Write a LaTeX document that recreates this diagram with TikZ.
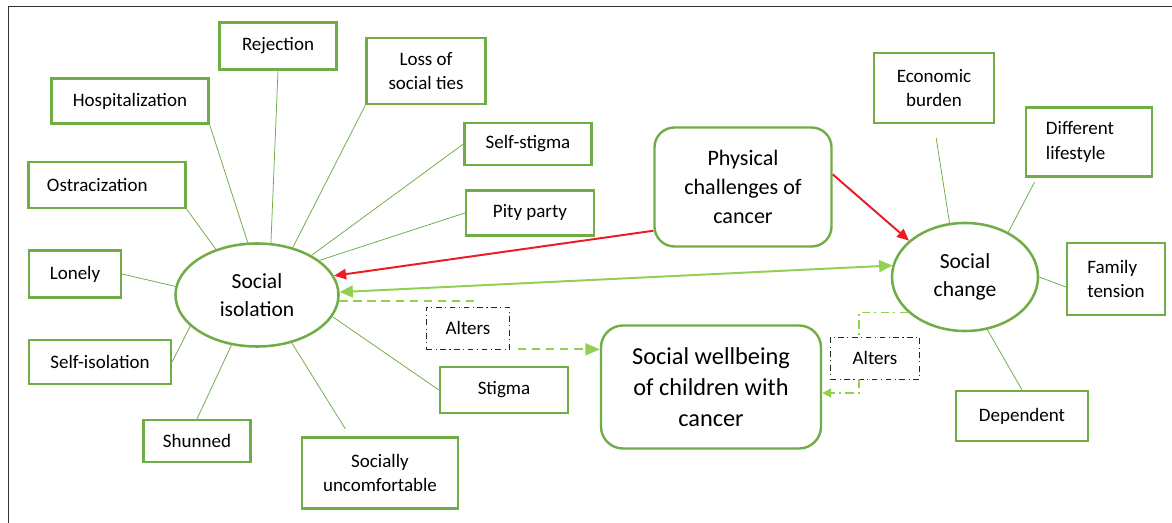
\documentclass[tikz,border=0pt]{standalone}
\usepackage{fontspec}
\setmainfont{Carlito}
\usetikzlibrary{arrows.meta,shapes.geometric}
\definecolor{boxgreen}{RGB}{112,173,71}
\definecolor{ltgreen}{RGB}{146,208,80}
\definecolor{arrred}{RGB}{236,28,36}

\begin{document}
\begin{tikzpicture}[
  x=0.025cm, y=-0.025cm,
  font=\fontsize{13.5}{17.5}\selectfont,
  box/.style={rectangle, draw=boxgreen, line width=1.6pt, fill=white,
              align=center, inner sep=2pt},
  rbox/.style={box, line width=1.7pt, rounded corners=0.5cm},
  oval/.style={ellipse, draw=boxgreen, line width=1.8pt, fill=white, align=center,
               inner sep=0pt, font=\fontsize{15.3}{20}\selectfont},
  alters/.style={rectangle, draw=black!85, line width=0.5pt, fill=white,
                 dash pattern=on 4pt off 2.5pt on 0.8pt off 2.5pt,
                 minimum height=1.05cm},
  spoke/.style={draw=boxgreen, line width=0.55pt},
  redarr/.style={-{Triangle[length=0.3cm,width=0.26cm]}, draw=arrred, line width=1.4pt},
  grarr/.style={{Triangle[length=0.33cm,width=0.3cm]}-{Triangle[length=0.33cm,width=0.3cm]},
                draw=ltgreen, line width=1.4pt},
  dasharr/.style={draw=ltgreen, line width=1.6pt, dash pattern=on 6pt off 4pt},
  dotarr/.style={draw=ltgreen, line width=1.3pt, dash pattern=on 6pt off 3pt on 1.5pt off 3pt}
]
\useasboundingbox (0,0) rectangle (1172,523);
\draw[black!80, line width=0.7pt] (8,523) -- (8,6) -- (1172,6);

% social isolation and its causes
\node[oval, minimum width=4.075cm, minimum height=2.575cm] (iso) at (257,295) {Social\\isolation};

\node[box, minimum width=2.925cm, minimum height=1.175cm] (rej)    at (278,46)  {Rejection};
\node[box, minimum width=3.925cm, minimum height=1.125cm] (hosp)   at (130,101) {Hospitalization};
\node[box, minimum width=2.975cm, minimum height=1.65cm]  (loss)   at (426,71)  {Loss of\\social ties};
\node[box, minimum width=3.175cm, minimum height=1.05cm]  (sst)    at (528,144) {Self-stigma};
\node[box, minimum width=3.2cm,   minimum height=1.125cm] (pity)   at (530,213) {Pity party};
\node[box, minimum width=3.925cm, minimum height=1.15cm,
      text width=3.0cm, align=left] (ostr) at (107,185) {Ostracization};
\node[box, minimum width=2.3cm,   minimum height=1.175cm] (lonely) at (75,274)  {Lonely};
\node[box, minimum width=3.55cm,  minimum height=1.1cm]   (siso)   at (100,362) {Self-isolation};
\node[box, minimum width=2.675cm, minimum height=1.05cm]  (shun)   at (197,441) {Shunned};
\node[box, minimum width=3.9cm,   minimum height=1.775cm] (sunc)   at (380,473) {Socially\\uncomfortable};
\node[box, minimum width=3.2cm,   minimum height=1.15cm]  (stig)   at (504,390) {Stigma};

\draw[spoke] (rej.south)       -- (iso.75);
\draw[spoke] (hosp.south east) -- (iso.100);
\draw[spoke] (loss.south west) -- (iso.53);
\draw[spoke] (sst.west)        -- (iso.36);
\draw[spoke] (pity.west)       -- (iso.29);
\draw[spoke] (ostr.south east) -- (iso.132);
\draw[spoke] (lonely.east)     -- (iso.174);
\draw[spoke] (siso.east)       -- (iso.205);
\draw[spoke] (shun.north)      -- (iso.243);
\draw[spoke, shorten <=0.22cm] ([xshift=-0.75cm]sunc.north) -- (iso.306);
\draw[spoke] (stig.west)       -- (iso.344);

% middle
\node[rbox, minimum width=4.425cm, minimum height=2.975cm,
      font=\fontsize{15.7}{20.6}\selectfont] (phys) at (743,187) {Physical\\challenges of\\cancer};
\node[rbox, minimum width=5.5cm, minimum height=3.075cm, rounded corners=0.55cm,
      font=\fontsize{17.3}{22}\selectfont] (well) at (711,387) {Social wellbeing\\of children with\\cancer};
\node[alters, minimum width=2.075cm] (alt1) at (468,328) {Alters};
\node[alters, minimum width=2.225cm] (alt2) at (875,358) {Alters};

% social change and its parts
\node[oval, minimum width=3.65cm, minimum height=2.7cm] (sch) at (965,277) {Social\\change};

\node[box, minimum width=3.0cm,  minimum height=1.75cm]  (eco) at (934,88)   {Economic\\burden};
\node[box, minimum width=3.15cm, minimum height=1.725cm, text width=2.15cm, align=left] (dif) at (1089,142) {Different\\lifestyle};
\node[box, minimum width=2.45cm, minimum height=1.8cm,   align=left] (fam) at (1116,279) {Family\\tension};
\node[box, minimum width=3.3cm,  minimum height=1.25cm]  (dep) at (1022,416) {Dependent};

\draw[spoke, shorten <=0.35cm] (eco.south) -- (sch.106);
\draw[spoke, shorten <=0.12cm] ([xshift=0.3cm]dif.south west) -- (sch.46);
\draw[spoke] ([yshift=-0.2cm]fam.west) -- (sch.east);
\draw[spoke] (dep.north) -- (sch.293);

% arrows
\draw[redarr] (phys.206) -- (iso.14);
\draw[redarr] (phys.8) -- (sch.147);
\draw[grarr] (iso.2) -- (sch.171);

\draw[dasharr] (iso.-4) -| ([xshift=0.12cm]alt1.north);
\draw[dasharr, -{Triangle[length=0.36cm,width=0.3cm]}]
  ([xshift=0.2cm]alt1.south east) -- (alt1.south east -| well.west);

\draw[dotarr] (sch.212) -| ([xshift=-0.4cm]alt2.north);
\draw[dotarr, -{Triangle[length=0.22cm,width=0.22cm]}]
  ([xshift=-0.4cm]alt2.south) |- ([yshift=-0.15cm]well.east);
\end{tikzpicture}
\end{document}
